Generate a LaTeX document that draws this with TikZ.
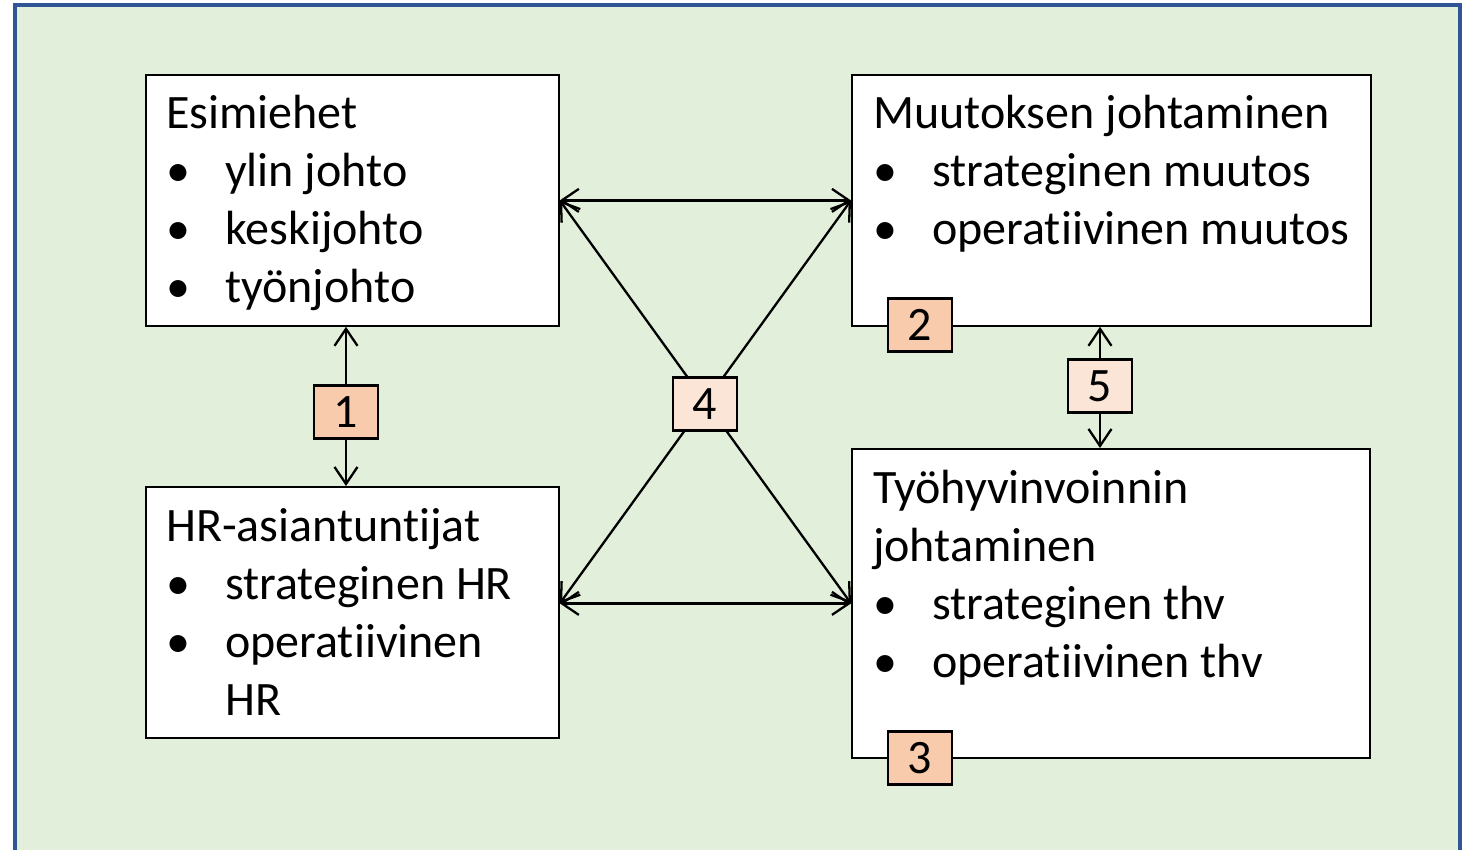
\documentclass[tikz,border=0pt]{standalone}
\usepackage{fontspec}
\setmainfont{Carlito}[Ligatures=NoCommon]
\usetikzlibrary{arrows.meta}

\definecolor{bgGreen}{HTML}{E2EFDA}
\definecolor{frameBlue}{HTML}{2F5597}
\definecolor{tagOrange}{HTML}{F8CBAD}
\definecolor{tagPeach}{HTML}{FBE5D6}

\tikzset{
  panel/.style={draw=black, fill=white, line width=1.8pt, inner sep=0pt, anchor=north west},
  txt/.style={anchor=base west, inner sep=0pt, font=\fontsize{48}{56}\selectfont},
  numtag/.style={draw=black, line width=2.2pt, minimum width=64pt, minimum height=53pt,
                 inner sep=0pt, font=\fontsize{48}{56}\selectfont},
  tip/.tip={Straight Barb[length=17pt,width=23pt]},
  link/.style={line width=2.3pt, tip-tip},
}

\begin{document}
\begin{tikzpicture}[x=1pt,y=-1pt]
  \useasboundingbox (0,0) rectangle (1465,850);
  \fill[white] (0,0) rectangle (1465,850);
  % framed green backdrop
  \draw[fill=bgGreen, draw=frameBlue, line width=4pt] (15,5) rectangle (1459.5,880);

  % the four panels
  \node[panel, minimum width=413pt, minimum height=251pt] (esim) at (145,74) {};
  \node[panel, minimum width=519pt, minimum height=251pt] (muut) at (851,74) {};
  \node[panel, minimum width=413pt, minimum height=251pt] (hr)   at (145,486) {};
  \node[panel, minimum width=518pt, minimum height=309pt] (tyo)  at (851,448) {};

  % panel texts
  \node[txt] (esimT) at (166,129) {Esimiehet};
  \node[txt] (esimB1) at (166,187) {\textbullet};
  \node[txt] (esimL1) at (225,187) {ylin johto};
  \node[txt] (esimB2) at (166,245) {\textbullet};
  \node[txt] (esimL2) at (225,245) {keskijohto};
  \node[txt] (esimB3) at (166,303) {\textbullet};
  \node[txt] (esimL3) at (225,303) {työnjohto};

  \node[txt] (muutT) at (873,129) {Muutoksen johtaminen};
  \node[txt] (muutB1) at (873,187) {\textbullet};
  \node[txt] (muutL1) at (932,187) {strateginen muutos};
  \node[txt] (muutB2) at (873,245) {\textbullet};
  \node[txt] (muutL2) at (932,245) {operatiivinen muutos};

  \node[txt] (hrT) at (166,541) {HR-asiantuntijat};
  \node[txt] (hrB1) at (166,599) {\textbullet};
  \node[txt] (hrL1) at (225,599) {strateginen HR};
  \node[txt] (hrB2) at (166,657) {\textbullet};
  \node[txt] (hrL2) at (225,657) {operatiivinen};
  \node[txt] (hrL3) at (225,715) {HR};

  \node[txt] (tyoT1) at (873,503) {Työhyvinvoinnin};
  \node[txt] (tyoT2) at (873,561) {johtaminen};
  \node[txt] (tyoB1) at (873,619) {\textbullet};
  \node[txt] (tyoL1) at (932,619) {strateginen thv};
  \node[txt] (tyoB2) at (873,677) {\textbullet};
  \node[txt] (tyoL2) at (932,677) {operatiivinen thv};

  % anchor points for the number tags
  \coordinate (c1) at (346,412);
  \coordinate (c4) at (705,404);
  \coordinate (c5) at (1100,386);

  % connectors
  \draw[link] (c1 |- esim.south) -- (c1 |- hr.north);
  \draw[link] (c5 |- muut.south) -- (c5 |- tyo.north);
  \draw[link] (esim.east) -- (muut.west);
  \draw[link] (hr.east |- tyo.west) -- (tyo.west);
  \draw[link] (esim.east) -- (tyo.west);
  \draw[link] (muut.west) -- (hr.east |- tyo.west);

  % number tags
  \node[numtag, fill=tagOrange] (n1) at (c1) {1};
  \node[numtag, fill=tagOrange] (n2) at (920,325) {2};
  \node[numtag, fill=tagOrange] (n3) at (920,758) {3};
  \node[numtag, fill=tagPeach]  (n4) at (c4) {4};
  \node[numtag, fill=tagPeach]  (n5) at (c5) {5};
\end{tikzpicture}
\end{document}
